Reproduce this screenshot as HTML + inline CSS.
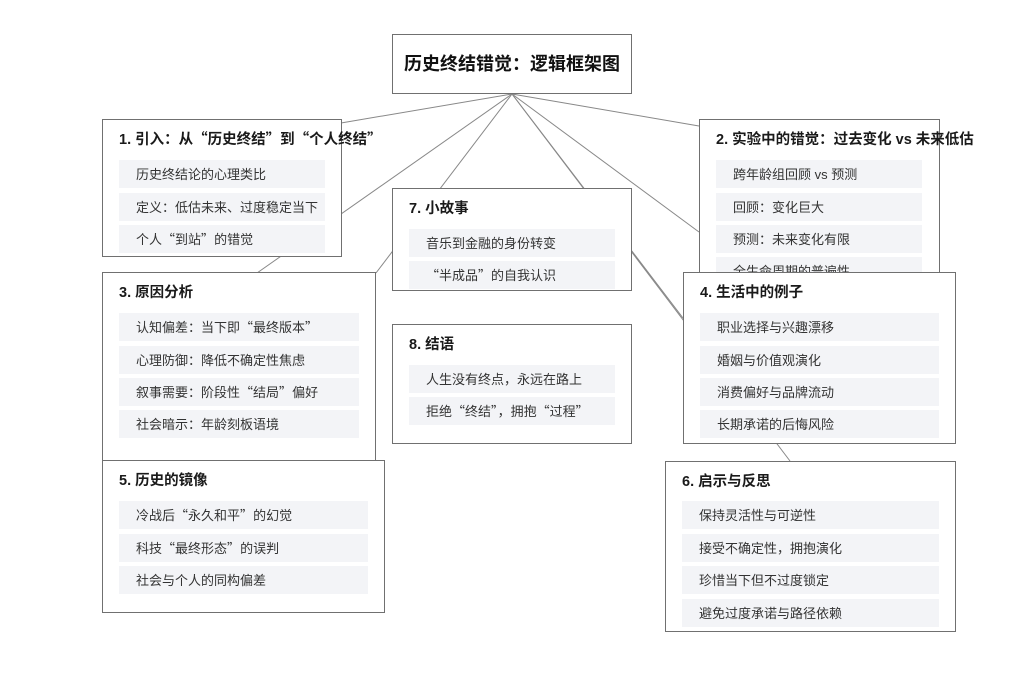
<!DOCTYPE html>
<html><head><meta charset="utf-8"><style>
body{margin:0;width:1024px;height:683px;background:#fff;position:relative;overflow:hidden;font-family:"Liberation Sans","Noto Sans CJK SC",sans-serif;color:#222}
svg{position:absolute;left:0;top:0}
.b{position:absolute;background:#fff;border:1.5px solid #707070;box-sizing:border-box}
.h{position:absolute;left:16px;top:10px;height:20px;font-size:14.5px;font-weight:bold;white-space:nowrap;color:#1a1a1a;display:flex;align-items:center;line-height:1}
.i{position:absolute;left:16px;height:28px;background:#f3f4f7;font-size:13px;line-height:1;display:flex;align-items:center;padding-left:17px;box-sizing:border-box;color:#333;white-space:nowrap;overflow:hidden}
.i span,.h span{white-space:pre}
.t{position:absolute;left:392px;top:34px;width:240px;height:60px;border:1.5px solid #707070;box-sizing:border-box;background:#fff;font-size:18px;font-weight:bold;display:flex;align-items:center;justify-content:center;line-height:1;color:#111}
.q{font-family:"Noto Sans CJK SC",sans-serif}
</style></head><body>
<svg width="1024" height="683"><g stroke="#888" stroke-width="1" fill="none">
<line x1="512" y1="94" x2="341" y2="123"/>
<line x1="512" y1="94" x2="257" y2="273"/>
<line x1="512" y1="94" x2="376" y2="273"/>
<line x1="512" y1="94" x2="683" y2="318"/>
<line x1="512" y1="94" x2="699" y2="126"/>
<line x1="512" y1="94" x2="699" y2="232"/>
<line x1="512" y1="94" x2="790" y2="461"/>
</g></svg>
<div class="t"><span>历史终结错觉：逻辑框架图</span></div>

<div class="b" style="left:102px;top:119px;width:240px;height:138px">
<div class="h"><span>1. 引入：从<span class="q">“</span>历史终结<span class="q">”</span>到<span class="q">“</span>个人终结<span class="q">”</span></span></div>
<div class="i" style="top:40px;width:206px"><span>历史终结论的心理类比</span></div>
<div class="i" style="top:73px;width:206px"><span>定义：低估未来、过度稳定当下</span></div>
<div class="i" style="top:105px;width:206px"><span>个人<span class="q">“</span>到站<span class="q">”</span>的错觉</span></div>
</div>

<div class="b" style="left:699px;top:119px;width:241px;height:160px">
<div class="h"><span>2. 实验中的错觉：过去变化 vs 未来低估</span></div>
<div class="i" style="top:40px;width:206px"><span>跨年龄组回顾 vs 预测</span></div>
<div class="i" style="top:73px;width:206px"><span>回顾：变化巨大</span></div>
<div class="i" style="top:105px;width:206px"><span>预测：未来变化有限</span></div>
<div class="i" style="top:137px;width:206px"><span>全生命周期的普遍性</span></div>
</div>

<div class="b" style="left:392px;top:188px;width:240px;height:103px">
<div class="h"><span>7. 小故事</span></div>
<div class="i" style="top:40px;width:206px"><span>音乐到金融的身份转变</span></div>
<div class="i" style="top:72px;width:206px"><span><span class="q">“</span>半成品<span class="q">”</span>的自我认识</span></div>
</div>

<div class="b" style="left:102px;top:272px;width:274px;height:200px">
<div class="h"><span>3. 原因分析</span></div>
<div class="i" style="top:40px;width:240px"><span>认知偏差：当下即<span class="q">“</span>最终版本<span class="q">”</span></span></div>
<div class="i" style="top:73px;width:240px"><span>心理防御：降低不确定性焦虑</span></div>
<div class="i" style="top:105px;width:240px"><span>叙事需要：阶段性<span class="q">“</span>结局<span class="q">”</span>偏好</span></div>
<div class="i" style="top:137px;width:240px"><span>社会暗示：年龄刻板语境</span></div>
</div>

<div class="b" style="left:683px;top:272px;width:273px;height:172px">
<div class="h"><span>4. 生活中的例子</span></div>
<div class="i" style="top:40px;width:239px"><span>职业选择与兴趣漂移</span></div>
<div class="i" style="top:73px;width:239px"><span>婚姻与价值观演化</span></div>
<div class="i" style="top:105px;width:239px"><span>消费偏好与品牌流动</span></div>
<div class="i" style="top:137px;width:239px"><span>长期承诺的后悔风险</span></div>
</div>

<div class="b" style="left:392px;top:324px;width:240px;height:120px">
<div class="h"><span>8. 结语</span></div>
<div class="i" style="top:40px;width:206px"><span>人生没有终点，永远在路上</span></div>
<div class="i" style="top:72px;width:206px"><span>拒绝<span class="q">“</span>终结<span class="q">”</span>，拥抱<span class="q">“</span>过程<span class="q">”</span></span></div>
</div>

<div class="b" style="left:102px;top:460px;width:283px;height:153px">
<div class="h"><span>5. 历史的镜像</span></div>
<div class="i" style="top:40px;width:249px"><span>冷战后<span class="q">“</span>永久和平<span class="q">”</span>的幻觉</span></div>
<div class="i" style="top:73px;width:249px"><span>科技<span class="q">“</span>最终形态<span class="q">”</span>的误判</span></div>
<div class="i" style="top:105px;width:249px"><span>社会与个人的同构偏差</span></div>
</div>

<div class="b" style="left:665px;top:461px;width:291px;height:171px">
<div class="h"><span>6. 启示与反思</span></div>
<div class="i" style="top:39px;width:257px"><span>保持灵活性与可逆性</span></div>
<div class="i" style="top:72px;width:257px"><span>接受不确定性，拥抱演化</span></div>
<div class="i" style="top:104px;width:257px"><span>珍惜当下但不过度锁定</span></div>
<div class="i" style="top:137px;width:257px"><span>避免过度承诺与路径依赖</span></div>
</div>
</body></html>
